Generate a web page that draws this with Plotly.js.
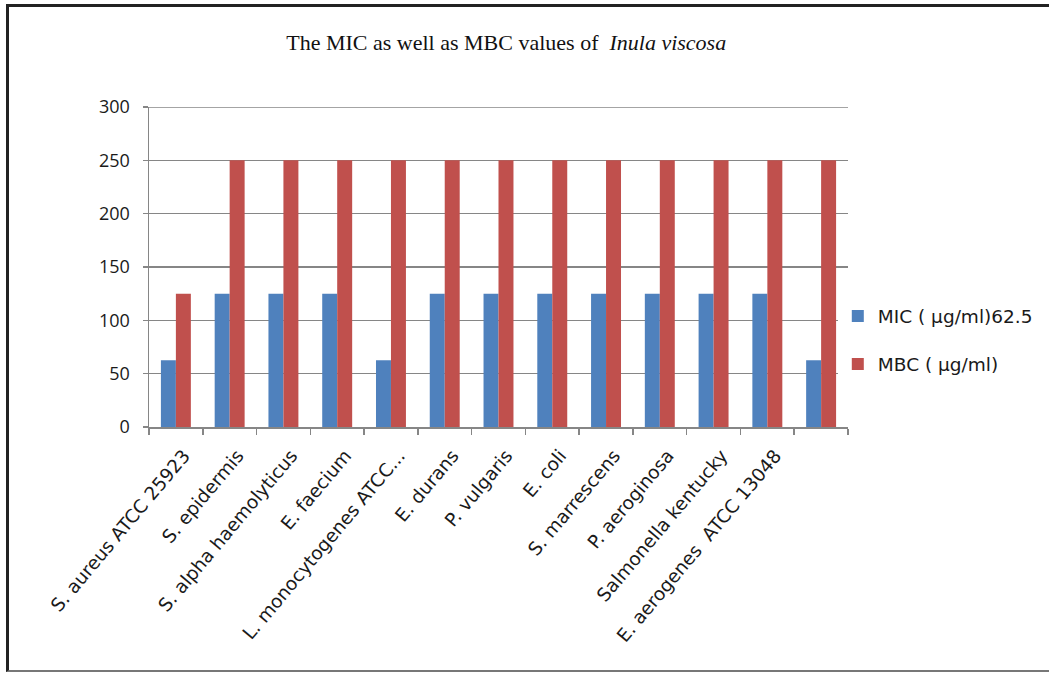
<!DOCTYPE html>
<html>
<head>
<meta charset="utf-8">
<script src="https://cdn.plot.ly/plotly-3.0.1.min.js"></script>
<style>
  html, body { margin: 0; padding: 0; background: #fff; }
  #chart { width: 1049px; height: 675px; }
  #frame { position: absolute; left: 6px; top: 4px; width: 1049px; height: 668px;
           border-left: 3px solid #222; border-top: 3px solid #222; border-bottom: 2px solid #777;
           pointer-events: none; box-sizing: border-box; }
</style>
</head>
<body>
<div id="chart"></div>
<div id="frame"></div>
<script>
const categories = [
  "S. aureus ATCC 25923", "S. epidermis", "S. alpha haemolyticus", "E. faecium",
  "L. monocytogenes ATCC...", "E. durans", "P. vulgaris", "E. coli", "S. marrescens",
  "P. aeroginosa", "Salmonella kentucky", "E. aerogenes  ATCC 13048", " "
];
const micValues = [62.5, 125, 125, 125, 62.5, 125, 125, 125, 125, 125, 125, 125, 62.5];
const mbcValues = [125, 250, 250, 250, 250, 250, 250, 250, 250, 250, 250, 250, 250];
const seriesNames = ["MIC ( µg/ml)62.5", "MBC ( µg/ml)"];
const yTicks = [0, 50, 100, 150, 200, 250, 300];

const textColor = "#1a1a1a";
const gridColor = "#868686";

const traces = [
  { type: "bar", name: seriesNames[0], x: categories, y: micValues,
    marker: { color: "#4F81BD" }, legendgroup: "a" },
  { type: "bar", name: seriesNames[1], x: categories, y: mbcValues,
    marker: { color: "#C0504D" }, legendgroup: "b" }
];

const layout = {
  width: 1049, height: 675,
  margin: { l: 149, r: 200, t: 107, b: 248 },
  paper_bgcolor: "#fff", plot_bgcolor: "#fff",
  barmode: "group", bargap: 0.443, bargroupgap: 0,
  title: {
    text: "The MIC as well as MBC values of  <i>Inula viscosa</i>",
    font: { family: "'Liberation Serif', 'DejaVu Serif', serif", size: 22, color: "#111" },
    xref: "paper", x: 0.511, xanchor: "center", yref: "container", y: 0.937, yanchor: "middle"
  },
  xaxis: {
    type: "category", tickangle: -50,
    tickfont: { family: "'DejaVu Sans', sans-serif", size: 18.5, color: textColor },
    showline: true, linecolor: gridColor, linewidth: 1.5,
    ticks: "outside", tickson: "boundaries", ticklen: 6, tickcolor: gridColor, tickwidth: 1.5,
    ticklabelstandoff: 9, ticklabelshift: 8,
    showgrid: false, automargin: false
  },
  yaxis: {
    range: [0, 300], tickvals: yTicks,
    tickfont: { family: "'Open Sans', sans-serif", size: 18, color: textColor },
    showline: true, linecolor: gridColor, linewidth: 1.5,
    ticks: "outside", ticklen: 5, tickcolor: gridColor, tickwidth: 1.5,
    ticklabelstandoff: 9,
    showgrid: true, gridcolor: gridColor, gridwidth: 1.5, zeroline: false,
    automargin: false
  },
  shapes: [
    { type: "line", xref: "paper", x0: 0, x1: 1, yref: "y", y0: yTicks[yTicks.length - 1], y1: yTicks[yTicks.length - 1],
      line: { color: gridColor, width: 1.5 }, layer: "below" }
  ],
  showlegend: true,
  legend: {
    x: 0.984, xanchor: "left", y: 0.405, yanchor: "top",
    font: { family: "'DejaVu Sans', sans-serif", size: 18.5, color: textColor },
    traceorder: "grouped", tracegroupgap: 21, itemwidth: 30
  }
};

Plotly.newPlot("chart", traces, layout, { displayModeBar: false, staticPlot: true });
</script>
</body>
</html>
